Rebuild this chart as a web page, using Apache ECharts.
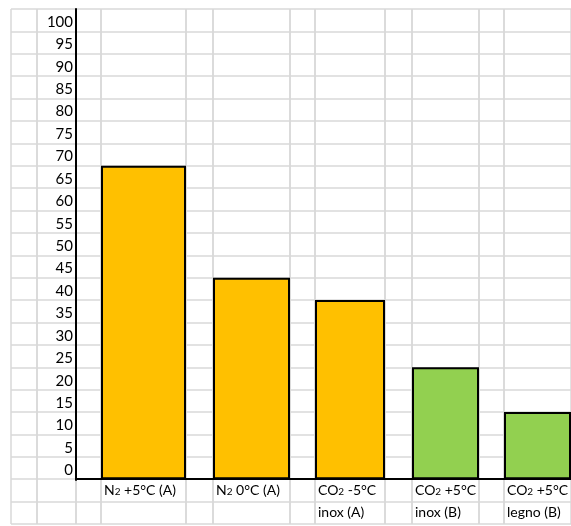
<!DOCTYPE html>
<html>
<head>
<meta charset="utf-8">
<script src="https://cdn.jsdelivr.net/npm/echarts@6/dist/echarts.min.js"></script>
<style>
  html, body { margin: 0; padding: 0; background: #fff; }
  #chart { width: 571px; height: 526px; }
</style>
</head>
<body>
<div id="chart"></div>
<script>
const categories = ['N2 +5°C (A)', 'N2 0°C (A)', 'CO2 -5°C\ninox (A)', 'CO2 +5°C\ninox (B)', 'CO2 +5°C\nlegno (B)']
const values = [70, 45, 40, 25, 15]
const groups = ['A', 'A', 'A', 'B', 'B']
const yTickLabels = [0, 5, 10, 15, 20, 25, 30, 35, 40, 45, 50, 55, 60, 65, 70, 75, 80, 85, 90, 95, 100]

// layout del foglio (colonne excel)
const colEdges = [11, 37, 76, 101, 186, 213, 290, 315, 385, 412, 479, 504, 571]
const barCols = [3, 5, 7, 9, 11]
const groupColor = { A: '#FFC000', B: '#92D050' }
const gridColor = '#d9d9d9'
const font = 'Lato'
const fontSize = 15

const chart = echarts.init(document.getElementById('chart'))

// N2 / CO2 con pedice
const fmtName = (v) => v ? v.replace(/([NO])2/g, '$1{sub|2}') : ''

const grids = []
const xAxes = []
const yAxes = []
const series = []

colEdges.slice(0, -1).forEach((left, i) => {
  const k = barCols.indexOf(i)
  grids.push({ left: left, top: 9, width: colEdges[i + 1] - left, height: 515, outerBoundsMode: 'none' })
  // asse "celle": righe verticali del foglio
  xAxes.push({
    gridIndex: i,
    type: 'category',
    boundaryGap: false,
    position: 'bottom',
    data: ['a', 'b'],
    axisLine: { show: i >= 2, onZero: true, lineStyle: { color: '#000', width: 2 } },
    axisTick: { show: false, interval: 0 },
    axisLabel: { show: false },
    splitLine: { show: true, interval: 0, lineStyle: { color: gridColor, width: 1.5 } }
  })
  yAxes.push({
    gridIndex: i,
    type: 'value',
    min: -10,
    max: 105,
    interval: 5,
    axisLine: { show: false },
    axisTick: { show: false },
    axisLabel: { show: false },
    splitLine: { show: true, lineStyle: { color: gridColor, width: 1.5 } }
  })
  if (k >= 0) {
    xAxes.push({ gridIndex: i, type: 'category', position: 'top', show: false, data: [categories[k]] })
    series.push({
      type: 'bar',
      name: categories[k],
      xAxisIndex: xAxes.length - 1,
      yAxisIndex: i,
      barWidth: '100%',
      data: [values[k]],
      itemStyle: { color: groupColor[groups[k]], borderColor: '#000', borderWidth: 2 },
      // nome della categoria sotto la barra, come nelle celle
      label: {
        show: true,
        position: [3, '100%'],
        align: 'left',
        verticalAlign: 'top',
        lineHeight: 22,
        fontFamily: font,
        fontSize: 14,
        color: '#000',
        textBorderWidth: 0,
        formatter: (p) => fmtName(p.name),
        rich: {
          sub: { fontFamily: font, fontSize: 10, color: '#000', textBorderWidth: 0, padding: [4, 0, 0, 0] }
        }
      }
    })
  }
})

// asse verticale nero con i valori
grids.push({ left: 76, top: 9, width: 10, height: 471, outerBoundsMode: 'none' })
xAxes.push({ gridIndex: grids.length - 1, type: 'value', show: false, min: 0, max: 1 })
yAxes.push({
  gridIndex: grids.length - 1,
  type: 'value',
  min: 0,
  max: 105,
  interval: 5,
  axisLine: { show: true, lineStyle: { color: '#000', width: 2 } },
  axisTick: { show: false },
  splitLine: { show: false },
  axisLabel: {
    margin: 3,
    showMinLabel: true,
    fontFamily: font,
    fontSize: fontSize,
    color: '#000',
    verticalAlign: 'bottom',
    padding: [0, 0, 2, 0],
    formatter: (v) => yTickLabels.includes(v) ? String(v) : ''
  }
})

chart.setOption({
  animation: false,
  backgroundColor: '#fff',
  grid: grids,
  xAxis: xAxes,
  yAxis: yAxes,
  series: series
})
</script>
</body>
</html>
